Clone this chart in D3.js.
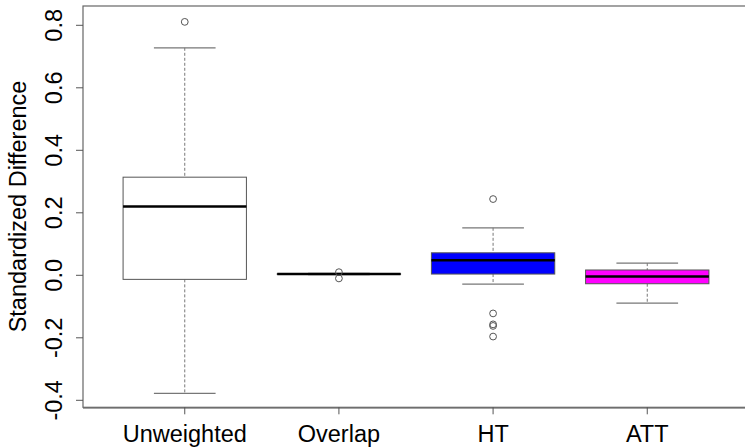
<!DOCTYPE html>
<html><head><meta charset="utf-8">
<script src="https://cdn.jsdelivr.net/npm/d3@7"></script>
<style>body{margin:0;background:#fff}svg{display:block}text{font-family:"Liberation Sans",Arial,sans-serif;fill:#000}</style>
</head><body><svg id="c" width="745" height="447"></svg>
<script>
const categories = ["Unweighted","Overlap","HT","ATT"];
const lowerWhisker = [-0.378, 0.002, -0.028, -0.089];
const q1 = [-0.013, 0.003, 0.004, -0.027];
const median = [0.220, 0.004, 0.048, -0.004];
const q3 = [0.314, 0.005, 0.072, 0.017];
const upperWhisker = [0.728, 0.006, 0.152, 0.039];
const outliers = [[0.811], [0.010, -0.010], [0.244, -0.122, -0.157, -0.162, -0.196], []];
const fills = ["#ffffff", "#ffffff", "#0000ff", "#ff00ff"];
const yTicks = [-0.4, -0.2, 0.0, 0.2, 0.4, 0.6, 0.8];
const yLabel = "Standardized Difference";

const svg = d3.select("#c");
const L = 83, R = 749, T = 6, B = 407.3;
const x = d3.scaleBand().domain(categories).range([L, R]).paddingInner(0).paddingOuter(0.16);
const y = d3.scaleLinear().domain([-0.4224, 0.8618]).range([B, T]);
const bw = x.bandwidth();
const cx = c => x(c) + bw / 2;
const boxW = bw * 0.8, capW = boxW * 0.5;
const FS = 23.5;

// frame
svg.append("rect").attr("x", L).attr("y", T).attr("width", R - L).attr("height", B - T)
  .attr("fill", "none").attr("stroke", "#666").attr("stroke-width", 1.2);

const g = svg.append("g").selectAll("g").data(categories).join("g");
// whiskers
g.append("line").attr("x1", cx).attr("x2", cx)
  .attr("y1", (c, i) => y(upperWhisker[i])).attr("y2", (c, i) => y(q3[i]))
  .attr("stroke", "#777").attr("stroke-dasharray", "3,2");
g.append("line").attr("x1", cx).attr("x2", cx)
  .attr("y1", (c, i) => y(q1[i])).attr("y2", (c, i) => y(lowerWhisker[i]))
  .attr("stroke", "#777").attr("stroke-dasharray", "3,2");
// caps
[upperWhisker, lowerWhisker].forEach(arr => {
  g.append("line").attr("x1", c => cx(c) - capW / 2).attr("x2", c => cx(c) + capW / 2)
    .attr("y1", (c, i) => y(arr[i])).attr("y2", (c, i) => y(arr[i]))
    .attr("stroke", "#777").attr("stroke-width", 1.2);
});
// boxes
g.append("rect").attr("x", c => cx(c) - boxW / 2).attr("width", boxW)
  .attr("y", (c, i) => y(q3[i])).attr("height", (c, i) => Math.max(0.5, y(q1[i]) - y(q3[i])))
  .attr("fill", (c, i) => fills[i]).attr("stroke", "#555").attr("stroke-width", 1);
// medians
g.append("line").attr("x1", c => cx(c) - boxW / 2).attr("x2", c => cx(c) + boxW / 2)
  .attr("y1", (c, i) => y(median[i])).attr("y2", (c, i) => y(median[i]))
  .attr("stroke", "#000").attr("stroke-width", 2.6);
// outliers
g.each(function (c, i) {
  d3.select(this).selectAll("circle").data(outliers[i]).join("circle")
    .attr("cx", cx(c)).attr("cy", d => y(d)).attr("r", 3.4)
    .attr("fill", "none").attr("stroke", "#555").attr("stroke-width", 1);
});

// y axis
const ya = svg.append("g");
ya.selectAll("line.t").data(yTicks).join("line").attr("class", "t")
  .attr("x1", L - 7).attr("x2", L).attr("y1", d => y(d)).attr("y2", d => y(d))
  .attr("stroke", "#555");
ya.selectAll("text").data(yTicks).join("text")
  .attr("transform", d => `translate(62,${y(d)}) rotate(-90)`)
  .attr("text-anchor", "middle").attr("font-size", FS)
  .text(d => d3.format(".1f")(d).replace("\u2212", "-"));
svg.append("text").attr("transform", `translate(25.5,${(80 + 333) / 2}) rotate(-90)`)
  .attr("text-anchor", "middle").attr("font-size", FS).text(yLabel);

// x axis
const xa = svg.append("g");
xa.append("line").attr("x1", L).attr("x2", R).attr("y1", B + 0.8).attr("y2", B + 0.8).attr("stroke", "#666");
xa.selectAll("line.t").data(categories).join("line").attr("class", "t")
  .attr("x1", cx).attr("x2", cx).attr("y1", B).attr("y2", B + 7).attr("stroke", "#555");
xa.selectAll("text").data(categories).join("text")
  .attr("x", cx).attr("y", 441.5).attr("text-anchor", "middle").attr("font-size", FS)
  .text(d => d);
</script></body></html>
